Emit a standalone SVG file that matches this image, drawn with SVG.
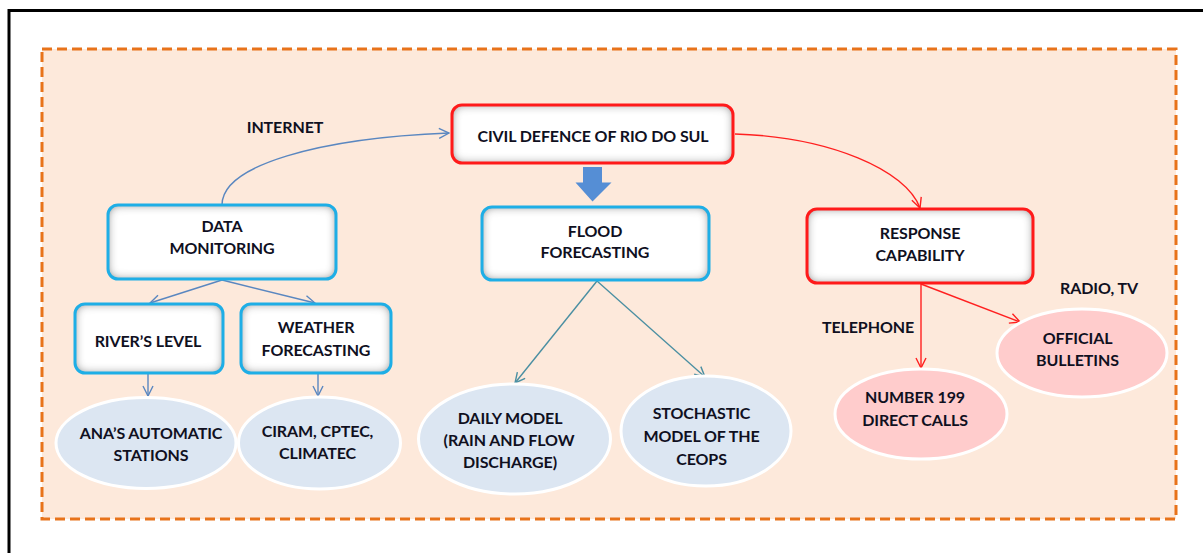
<svg xmlns="http://www.w3.org/2000/svg" width="1203" height="553" viewBox="0 0 1203 553">
  <style>
    .lbl { font-family: Lato, "Liberation Sans", Arial, sans-serif; font-weight: 700; font-size: 16px; letter-spacing: -0.1px; fill: #10101f; text-anchor: middle; }
    .box { fill: #ffffff; }
    .edge-blue { stroke: #1eaee6; stroke-width: 3; fill: none; }
    .edge-red { stroke: #ff1a1a; stroke-width: 3; fill: none; }
    .oval-blue { fill: #dce6f2; stroke: #ffffff; stroke-width: 3; }
    .oval-pink { fill: #ffcccc; stroke: #ffffff; stroke-width: 3; }
    .c-steel { stroke: #5a87c0; stroke-width: 1.4; fill: none; marker-end: url(#arrSteel); }
    .c-teal { stroke: #4a8fa2; stroke-width: 1.4; fill: none; marker-end: url(#arrTeal); }
    .c-red { stroke: #ff2020; stroke-width: 1.4; fill: none; marker-end: url(#arrRed); }
  </style>
  <defs>
    <marker id="arrSteel" viewBox="0 0 12 12" refX="11" refY="6" markerWidth="12" markerHeight="12" markerUnits="userSpaceOnUse" orient="auto">
      <path d="M1,1 L11,6 L1,11" fill="none" stroke="#5a87c0" stroke-width="1.4"/>
    </marker>
    <marker id="arrTeal" viewBox="0 0 12 12" refX="11" refY="6" markerWidth="12" markerHeight="12" markerUnits="userSpaceOnUse" orient="auto">
      <path d="M1,1 L11,6 L1,11" fill="none" stroke="#4a8fa2" stroke-width="1.4"/>
    </marker>
    <marker id="arrRed" viewBox="0 0 12 12" refX="11" refY="6" markerWidth="12" markerHeight="12" markerUnits="userSpaceOnUse" orient="auto">
      <path d="M1,1 L11,6 L1,11" fill="none" stroke="#ff2020" stroke-width="1.4"/>
    </marker>
    <!-- soft grey shading along the inside edges of the boxes -->
    <filter id="innerShade" x="-5%" y="-10%" width="110%" height="120%">
      <feFlood flood-color="#4a4a4a" result="c"/>
      <feComposite in="c" in2="SourceAlpha" operator="out" result="ring"/>
      <feGaussianBlur in="ring" stdDeviation="5" result="blur"/>
      <feComposite in="blur" in2="SourceAlpha" operator="in" result="shade"/>
      <feMerge>
        <feMergeNode in="SourceGraphic"/>
        <feMergeNode in="shade"/>
      </feMerge>
    </filter>
  </defs>

  <!-- page frame -->
  <rect x="0" y="0" width="1203" height="553" fill="#ffffff"/>
  <rect x="9" y="10.5" width="1210" height="560" fill="none" stroke="#000000" stroke-width="3"/>

  <!-- dashed panel -->
  <rect x="42" y="49" width="1134" height="470" fill="#fde9db" stroke="#e8731a" stroke-width="3" stroke-dasharray="10,5"/>

  <!-- connectors -->
  <g id="connectors">
    <path class="c-steel" d="M222,205 C222,165 320,138 449,133"/>
    <path class="c-steel" d="M222,280 L150,303"/>
    <path class="c-steel" d="M222,280 L315,303"/>
    <path class="c-steel" d="M148,374 L148,396"/>
    <path class="c-steel" d="M318,374 L318,396"/>
    <path class="c-teal" d="M597,281 L515,383"/>
    <path class="c-teal" d="M597,281 L705,377"/>
    <path class="c-red" d="M735,134 C830,137 906,170 920,208"/>
    <path class="c-red" d="M921,284 L921,368"/>
    <path class="c-red" d="M921,284 L1020,322"/>
    <!-- block arrow down to forecasting -->
    <path d="M583,167 L602,167 L602,182.5 L611.5,182.5 L592.5,201.5 L575.5,182.5 L583,182.5 Z" fill="#558ed5"/>
  </g>

  <!-- edge labels -->
  <text class="lbl" x="285" y="133">INTERNET</text>
  <text class="lbl" x="868" y="333">TELEPHONE</text>
  <text class="lbl" x="1099" y="294">RADIO, TV</text>

  <g id="civil-defence">
    <rect class="box" x="452" y="105" width="281" height="58" rx="10" filter="url(#innerShade)"/>
    <rect class="edge-red" x="452" y="105" width="281" height="58" rx="10"/>
    <text class="lbl" x="593" y="142">CIVIL DEFENCE OF RIO DO SUL</text>
  </g>

  <g id="data-monitoring">
    <rect class="box" x="108" y="205" width="228" height="74" rx="10" filter="url(#innerShade)"/>
    <rect class="edge-blue" x="108" y="205" width="228" height="74" rx="10"/>
    <text class="lbl" x="222" y="232">DATA</text>
    <text class="lbl" x="222" y="254">MONITORING</text>
  </g>

  <g id="flood-forecasting">
    <rect class="box" x="482" y="207" width="227" height="73" rx="10" filter="url(#innerShade)"/>
    <rect class="edge-blue" x="482" y="207" width="227" height="73" rx="10"/>
    <text class="lbl" x="595" y="237">FLOOD</text>
    <text class="lbl" x="595" y="258">FORECASTING</text>
  </g>

  <g id="response-capability">
    <rect class="box" x="807" y="209" width="226" height="74" rx="10" filter="url(#innerShade)"/>
    <rect class="edge-red" x="807" y="209" width="226" height="74" rx="10"/>
    <text class="lbl" x="920" y="239">RESPONSE</text>
    <text class="lbl" x="920" y="261">CAPABILITY</text>
  </g>

  <g id="rivers-level">
    <rect class="box" x="75" y="304" width="148" height="69" rx="10" filter="url(#innerShade)"/>
    <rect class="edge-blue" x="75" y="304" width="148" height="69" rx="10"/>
    <text class="lbl" x="148" y="347">RIVER’S LEVEL</text>
  </g>

  <g id="weather-forecasting">
    <rect class="box" x="241" y="304" width="150" height="69" rx="10" filter="url(#innerShade)"/>
    <rect class="edge-blue" x="241" y="304" width="150" height="69" rx="10"/>
    <text class="lbl" x="316" y="333">WEATHER</text>
    <text class="lbl" x="316" y="356">FORECASTING</text>
  </g>

  <g id="ana-stations">
    <ellipse class="oval-blue" cx="146" cy="443" rx="90" ry="45.5"/>
    <text class="lbl" x="151" y="439">ANA’S AUTOMATIC</text>
    <text class="lbl" x="151" y="461">STATIONS</text>
  </g>

  <g id="ciram-cptec">
    <ellipse class="oval-blue" cx="319.5" cy="443" rx="81" ry="46"/>
    <text class="lbl" x="317.5" y="437">CIRAM, CPTEC,</text>
    <text class="lbl" x="317.5" y="459">CLIMATEC</text>
  </g>

  <g id="daily-model">
    <ellipse class="oval-blue" cx="514.5" cy="439" rx="96" ry="55"/>
    <text class="lbl" x="510" y="424">DAILY MODEL</text>
    <text class="lbl" x="509" y="446">(RAIN AND FLOW</text>
    <text class="lbl" x="510" y="468">DISCHARGE)</text>
  </g>

  <g id="stochastic-model">
    <ellipse class="oval-blue" cx="706" cy="431" rx="85" ry="55"/>
    <text class="lbl" x="701.5" y="419">STOCHASTIC</text>
    <text class="lbl" x="701.5" y="442">MODEL OF THE</text>
    <text class="lbl" x="701.5" y="465">CEOPS</text>
  </g>

  <g id="number-199">
    <ellipse class="oval-pink" cx="921" cy="414" rx="86" ry="45"/>
    <text class="lbl" x="915" y="403">NUMBER 199</text>
    <text class="lbl" x="915" y="426">DIRECT CALLS</text>
  </g>

  <g id="official-bulletins">
    <ellipse class="oval-pink" cx="1082" cy="353" rx="85" ry="44"/>
    <text class="lbl" x="1077.5" y="344">OFFICIAL</text>
    <text class="lbl" x="1077.5" y="366">BULLETINS</text>
  </g>
</svg>
